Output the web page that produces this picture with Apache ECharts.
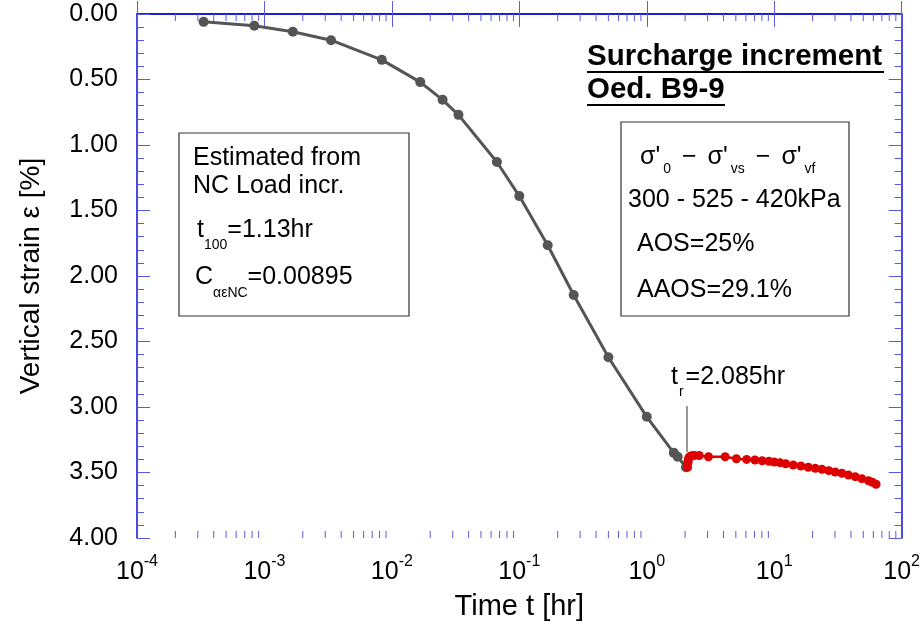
<!DOCTYPE html>
<html>
<head>
<meta charset="utf-8">
<script src="https://cdn.jsdelivr.net/npm/echarts@6.0.0/dist/echarts.min.js"></script>
<style>
  html, body { margin: 0; padding: 0; background: #fff; }
  #chart { width: 923px; height: 626px; }
</style>
</head>
<body>
<div id="chart"></div>
<script>
// primary loading (grey) - time [hr], strain [%]
const loadTime = [0.000333, 0.000833, 0.00167, 0.00333, 0.00833, 0.0167, 0.025, 0.0333, 0.0667, 0.1, 0.167, 0.267, 0.5, 1.0, 1.63, 1.75, 2.03];
const loadStrain = [0.06, 0.09, 0.135, 0.20, 0.35, 0.52, 0.655, 0.77, 1.13, 1.39, 1.765, 2.145, 2.62, 3.075, 3.35, 3.38, 3.46];

// after surcharge removal (red)
const unloadTime = [2.09, 2.1, 2.11, 2.12, 2.15, 2.19, 2.26, 2.36, 2.58, 3.05, 4.12, 5.05, 6.08, 7.06, 8.05, 9.09, 10.0, 11.1, 12.3, 14.1, 16.2, 18.5, 21.0, 23.7, 26.8, 30.1, 34.0, 38.3, 43.2, 48.7, 55.0, 59.0, 63.0];
const unloadStrain = [3.46, 3.43, 3.415, 3.40, 3.385, 3.375, 3.372, 3.37, 3.37, 3.38, 3.38, 3.395, 3.40, 3.405, 3.41, 3.415, 3.42, 3.425, 3.433, 3.443, 3.45, 3.46, 3.468, 3.476, 3.486, 3.496, 3.506, 3.52, 3.532, 3.547, 3.563, 3.575, 3.59];

const xDecades = [1e-4, 1e-3, 1e-2, 1e-1, 1e0, 1e1, 1e2];
const yTicks = [0, 0.5, 1, 1.5, 2, 2.5, 3, 3.5, 4];

// minor tick positions on the log axis (2..9 x 10^k)
const xMinor = [];
for (let k = -4; k < 2; k++) {
    for (let m = 2; m <= 9; m++) xMinor.push(m * Math.pow(10, k));
}

const AXIS = '#1010d0';
const TICK = '#5a5ae0';
const FONT = '"Liberation Sans", Arial, sans-serif';

const chart = echarts.init(document.getElementById('chart'), null, { renderer: 'canvas' });

const nrm = { fontSize: 25, fontFamily: FONT, color: '#000', verticalAlign: 'top' };
const sub = pad => ({ fontSize: 14, fontFamily: FONT, color: '#000', verticalAlign: 'top', padding: [pad, 0, 0, 0] });

chart.setOption({
    animation: false,
    backgroundColor: '#fff',
    grid: { left: 137, right: 18, top: 14, bottom: 88 },
    xAxis: [{
        type: 'log', logBase: 10, min: xDecades[0], max: xDecades[xDecades.length - 1], splitNumber: 6,
        position: 'bottom',
        name: 'Time t [hr]', nameLocation: 'middle', nameGap: 54,
        nameTextStyle: { fontSize: 29, fontFamily: FONT, color: '#000' },
        axisLine: { lineStyle: { color: AXIS, width: 1.5 } },
        axisTick: { inside: true, length: 13, lineStyle: { color: TICK } },
        axisLabel: {
            margin: 16,
            formatter: v => '{b|10}{s|' + Math.round(Math.log10(v)) + '}',
            rich: {
                b: { fontSize: 25, fontFamily: FONT, color: '#000', verticalAlign: 'top', padding: [6, 0, 0, 0] },
                s: { fontSize: 16, fontFamily: FONT, color: '#000', verticalAlign: 'top' }
            }
        },
        splitLine: { show: false }
    }, {
        type: 'log', logBase: 10, min: xDecades[0], max: xDecades[xDecades.length - 1], splitNumber: 6,
        position: 'top',
        axisLine: { lineStyle: { color: AXIS, width: 1.5 } },
        axisTick: { inside: true, length: 13, lineStyle: { color: TICK } },
        axisLabel: { show: false },
        splitLine: { show: false }
    }],
    yAxis: [{
        type: 'value', inverse: true, min: yTicks[0], max: yTicks[yTicks.length - 1], interval: 0.5,
        name: 'Vertical strain ε [%]', nameLocation: 'middle', nameGap: 92,
        nameTextStyle: { fontSize: 28, fontFamily: FONT, color: '#000' },
        axisLine: { show: true, lineStyle: { color: AXIS, width: 1.5 } },
        axisTick: { show: true, inside: true, length: 13, lineStyle: { color: TICK } },
        minorTick: { show: true, splitNumber: 5, length: 7, lineStyle: { color: TICK } },
        axisLabel: { margin: 19, fontSize: 25, fontFamily: FONT, color: '#000', formatter: v => v.toFixed(2) },
        splitLine: { show: false }
    }, {
        type: 'value', inverse: true, min: yTicks[0], max: yTicks[yTicks.length - 1], interval: 0.5, position: 'right',
        axisLine: { show: true, lineStyle: { color: AXIS, width: 1.5 } },
        axisTick: { show: true, inside: true, length: 13, lineStyle: { color: TICK } },
        minorTick: { show: true, splitNumber: 5, length: 7, lineStyle: { color: TICK } },
        axisLabel: { show: false },
        splitLine: { show: false }
    }],
    series: [{
        type: 'custom', silent: true, clip: false,
        data: xMinor.map(v => [v, 0]),
        renderItem: (params, api) => {
            const v = api.value(0);
            const b = api.coord([v, 4]);
            const t = api.coord([v, 0]);
            return {
                type: 'group', children: [
                    { type: 'line', shape: { x1: b[0], y1: b[1], x2: b[0], y2: b[1] - 7 }, style: { stroke: TICK, lineWidth: 1 } },
                    { type: 'line', shape: { x1: t[0], y1: t[1], x2: t[0], y2: t[1] + 7 }, style: { stroke: TICK, lineWidth: 1 } }
                ]
            };
        }
    }, {
        name: 'loading', type: 'line',
        data: loadTime.map((t, i) => [t, loadStrain[i]]),
        symbol: 'circle', symbolSize: 10,
        itemStyle: { color: '#555555' },
        lineStyle: { color: '#555555', width: 3 },
        z: 3
    }, {
        name: 'unloading', type: 'line',
        data: unloadTime.map((t, i) => [t, unloadStrain[i]]),
        symbol: 'circle', symbolSize: 9,
        itemStyle: { color: '#dd0000' },
        lineStyle: { color: '#dd0000', width: 2.5 },
        z: 4
    }],
    graphic: [
        // left info box
        { type: 'rect', shape: { x: 179, y: 133, width: 230, height: 183 }, style: { fill: '#fff', stroke: '#333', lineWidth: 1.2 }, z: 10 },
        { type: 'text', x: 193, y: 146, z: 11, style: { text: 'Estimated from', font: '25px ' + FONT, fill: '#000' } },
        { type: 'text', x: 193, y: 174, z: 11, style: { text: 'NC Load incr.', font: '25px ' + FONT, fill: '#000' } },
        { type: 'text', x: 197, y: 218, z: 11, style: { text: '{n|t}{s|100}{n|=1.13hr}', rich: { n: nrm, s: sub(20) } } },
        { type: 'text', x: 195, y: 265, z: 11, style: { text: '{n|C}{s|αεNC}{n|=0.00895}', rich: { n: nrm, s: sub(21) } } },

        // title
        { type: 'text', x: 587, y: 42, z: 11, style: { text: 'Surcharge increment', font: 'bold 29.5px ' + FONT, fill: '#000' } },
        { type: 'line', shape: { x1: 587, y1: 72, x2: 884, y2: 72 }, style: { stroke: '#000', lineWidth: 2 }, z: 11 },
        { type: 'text', x: 587, y: 75, z: 11, style: { text: 'Oed. B9-9', font: 'bold 29.5px ' + FONT, fill: '#000' } },
        { type: 'line', shape: { x1: 587, y1: 105, x2: 725, y2: 105 }, style: { stroke: '#000', lineWidth: 2 }, z: 11 },

        // right info box
        { type: 'rect', shape: { x: 621, y: 122, width: 228, height: 194 }, style: { fill: '#fff', stroke: '#333', lineWidth: 1.2 }, z: 10 },
        { type: 'text', x: 640, y: 145, z: 11, style: {
            text: "{n|σ'}{s|0}{d|−}{n|σ'}{s|vs}{d|−}{n|σ'}{s|vf}",
            rich: {
                n: nrm,
                s: { fontSize: 14, fontFamily: FONT, color: '#000', verticalAlign: 'top', padding: [17, 0, 0, 3] },
                d: { fontSize: 25, fontFamily: FONT, color: '#000', verticalAlign: 'top', padding: [0, 11, 0, 11] }
            } } },
        { type: 'text', x: 628, y: 188, z: 11, style: { text: '300 - 525 - 420kPa', font: '25px ' + FONT, fill: '#000' } },
        { type: 'text', x: 637, y: 232, z: 11, style: { text: 'AOS=25%', font: '25px ' + FONT, fill: '#000' } },
        { type: 'text', x: 637, y: 278, z: 11, style: { text: 'AAOS=29.1%', font: '25px ' + FONT, fill: '#000' } },

        // t_r marker
        { type: 'line', shape: { x1: 687, y1: 406, x2: 687, y2: 452 }, style: { stroke: '#333', lineWidth: 1 }, z: 11 },
        { type: 'text', x: 671, y: 365, z: 11, style: { text: '{n|t}{s|r}{n|=2.085hr}', rich: { n: nrm, s: { fontSize: 14, fontFamily: FONT, color: '#000', verticalAlign: 'top', padding: [20, 2, 0, 1] } } } }
    ]
});
</script>
</body>
</html>
